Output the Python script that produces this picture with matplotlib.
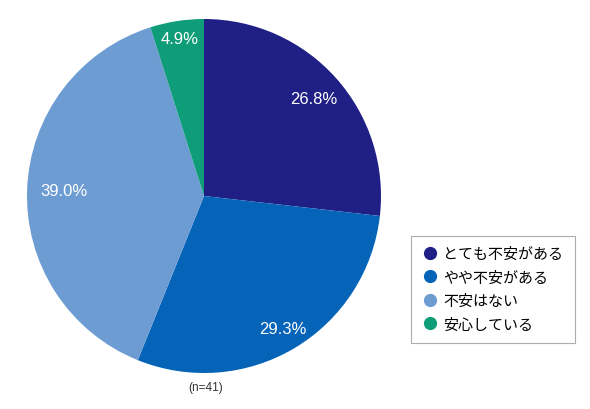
import matplotlib
matplotlib.use("Agg")
import matplotlib.pyplot as plt
from matplotlib.lines import Line2D
import numpy as np

plt.rcParams['font.family'] = ['Noto Sans CJK JP', 'DejaVu Sans']

labels = ['とても不安がある', 'やや不安がある', '不安はない', '安心している']
values = [26.8, 29.3, 39.0, 4.9]
colors = ['#1f1f86', '#0563b8', '#6d9cd2', '#0f9c78']
note = '(n=41)'

# radial placement of each percentage label (fraction of radius)
label_r = [0.83, 0.87, 0.79, 0.90]

fig = plt.figure(figsize=(5.9, 4.1), dpi=100)
ax = fig.add_axes([27 / 590, 36 / 410, 354 / 590, 354 / 410])

wedges, texts = ax.pie(values, colors=colors, startangle=90, counterclock=False,
                       radius=1.0, wedgeprops=dict(linewidth=0))

for w, v, r in zip(wedges, values, label_r):
    ang = np.deg2rad((w.theta1 + w.theta2) / 2)
    ax.text(r * np.cos(ang), r * np.sin(ang), '{:.1f}%'.format(v),
            ha='center', va='center', color='white', fontsize=12,
            family=['Liberation Sans', 'DejaVu Sans'])

ax.set_xlim(-1, 1)
ax.set_ylim(-1, 1)
ax.set_aspect('equal')
ax.axis('off')

fig.text(206 / 590, 1 - 388 / 410, note, ha='center', va='center', fontsize=8.5,
         color='#333333', family=['Liberation Sans', 'DejaVu Sans'])

# round markers in the legend
handles = [Line2D([0], [0], marker='o', linestyle='', markersize=8.5,
                  markerfacecolor=c, markeredgecolor=c) for c in colors]
leg = fig.legend(handles, labels, loc='upper left',
                 bbox_to_anchor=(411 / 590, 1 - 237 / 410),
                 frameon=True, fancybox=False, fontsize=10.8,
                 handlelength=1.0, handletextpad=0.4,
                 labelspacing=0.62, borderpad=0.75, borderaxespad=0)
leg.get_frame().set_edgecolor('#999999')
leg.get_frame().set_linewidth(0.8)

fig.savefig('out.png', dpi=100, facecolor='white')
